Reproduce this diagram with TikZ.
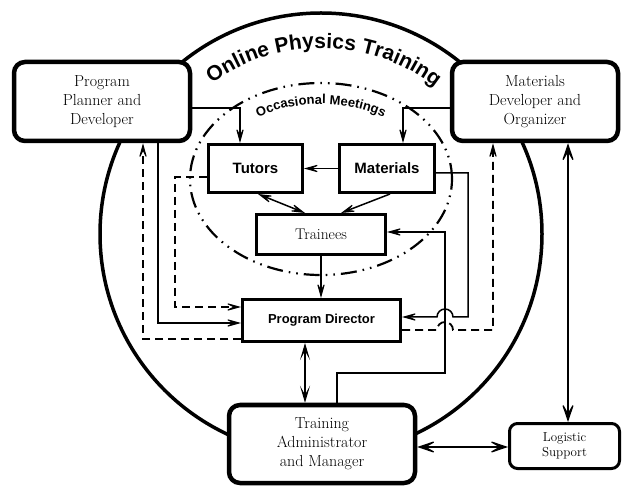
\documentclass[tikz,border=0pt]{standalone}
\usepackage{fontspec}
\setsansfont{Liberation Sans}
\usetikzlibrary{arrows.meta,decorations.text,calc}
\tikzset{
  arr/.tip={Stealth[length=18pt,width=10pt,inset=10pt,line width=1pt]},
  midarr/.tip={Stealth[length=17pt,width=10pt,inset=9pt,line width=1pt]},
  bigarr/.tip={Stealth[length=22pt,width=15pt,inset=13pt,line width=1.2pt]},
}
\begin{document}
\begin{tikzpicture}[x=1pt,y=1pt,
  bigbox/.style={draw, line width=4.5pt, rounded corners=11pt, fill=white, align=center, inner sep=0pt,
    font=\fontsize{16}{19}\selectfont},
  smallbox/.style={draw, line width=3pt, fill=white, align=center, inner sep=0pt},
  sfbold/.style={font=\sffamily\bfseries\fontsize{15}{18}\selectfont},
  conn/.style={line width=1.5pt},
  dconn/.style={line width=1.8pt, dash pattern=on 8pt off 5pt},
  bconn/.style={line width=2.2pt},
]
\useasboundingbox (0,0) rectangle (623,487);

% outer circle
\draw[line width=3.5pt] (321,253) circle[radius=221];
% occasional meetings ellipse
\draw[line width=2.2pt, dash pattern=on 16pt off 6pt on 1.6pt off 6pt on 1.6pt off 6pt]
  (321,308) ellipse[x radius=131, y radius=96];

% texts along arcs
\path[decorate, decoration={text along path,
  text={|\fontsize{21}{21}\selectfont\sffamily\bfseries|Online Physics Training},
  text align=center}]
  (321,253) ++(127:186) arc[start angle=127, end angle=51, radius=186];
\path[decorate, decoration={text along path,
  text={|\fontsize{13}{13}\selectfont\sffamily\bfseries|Occasional Meetings},
  text align=center}]
  (321,308) ++(133:110 and 75) arc[start angle=133, end angle=47, x radius=110, y radius=75];

% boxes
\node[bigbox, minimum width=176pt, minimum height=79pt] (ppd) at (102,385.5) {Program\\Planner and\\Developer};
\node[bigbox, minimum width=166pt, minimum height=79pt] (mdo) at (535,385.5) {Materials\\Developer and\\Organizer};
\node[bigbox, minimum width=186pt, minimum height=78pt] (tam) at (322,43) {Training\\Administrator\\and Manager};
\node[smallbox, rounded corners=8pt, minimum width=110pt, minimum height=45pt,
  font=\fontsize{13}{15}\selectfont] (ls) at (564.5,41) {Logistic\\Support};
\node[smallbox, sfbold, minimum width=94pt, minimum height=48pt] (tutors) at (255.5,318.5) {Tutors};
\node[smallbox, sfbold, minimum width=95pt, minimum height=48pt] (materials) at (387,318.5) {Materials};
\node[smallbox, minimum width=129pt, minimum height=40pt, font=\fontsize{15.5}{18}\selectfont] (trainees) at (321,252.5) {Trainees};
\node[smallbox, minimum width=158pt, minimum height=42pt, font=\sffamily\bfseries\fontsize{13}{15}\selectfont] (pd) at (321.5,166.5) {Program Director};

% connectors
\draw[conn,-arr] ([yshift=-6.5pt]ppd.east) -| ([xshift=-15.5pt]tutors.north);
\draw[conn,-arr] ([yshift=-6.5pt]mdo.west) -| ([xshift=16pt]materials.north);
\draw[conn,-arr] (materials.west) -- (tutors.east);
\draw[conn,arr-arr] ([xshift=2.5pt]tutors.south) -- ([xshift=-16pt]trainees.north);
\draw[conn,-arr] ([xshift=3pt]materials.south) -- ([xshift=20pt]trainees.north);
\draw[conn,-arr] (trainees.south) -- (trainees.south |- pd.north);

\draw[dconn,-arr] ([yshift=-18.5pt]pd.west) -| ([xshift=41pt]ppd.south);
\draw[conn,-arr] ([xshift=56pt]ppd.south) |- ([yshift=-2.5pt]pd.west);
\draw[dconn,-arr] ([yshift=-8.5pt]tutors.west) -- ++(-32,0) |- ([yshift=13.5pt]pd.west);

\draw[conn,-arr] ([yshift=-4.5pt]materials.east) -- ++(32,0) |- (453,170)
  arc[start angle=0, end angle=180, radius=8] -- ([yshift=3.5pt]pd.east);
\draw[dconn,-arr] ([yshift=-9.5pt]pd.east) -- (437,157)
  arc[start angle=180, end angle=0, radius=8] -| ([xshift=-42pt]mdo.south);
\draw[conn,-arr] ([xshift=15pt]tam.north) |- (445,114) |- ([yshift=2.5pt]trainees.east);

\draw[bconn,midarr-midarr] ([xshift=-16.5pt]pd.south) -- ([xshift=-17pt]tam.north);
\draw[bconn,bigarr-bigarr] ([xshift=33pt]mdo.south) -- ([xshift=3.5pt]ls.north);
\draw[bconn,bigarr-bigarr] ([yshift=-3pt]tam.east) -- ([yshift=-1pt]ls.west);
\end{tikzpicture}
\end{document}
